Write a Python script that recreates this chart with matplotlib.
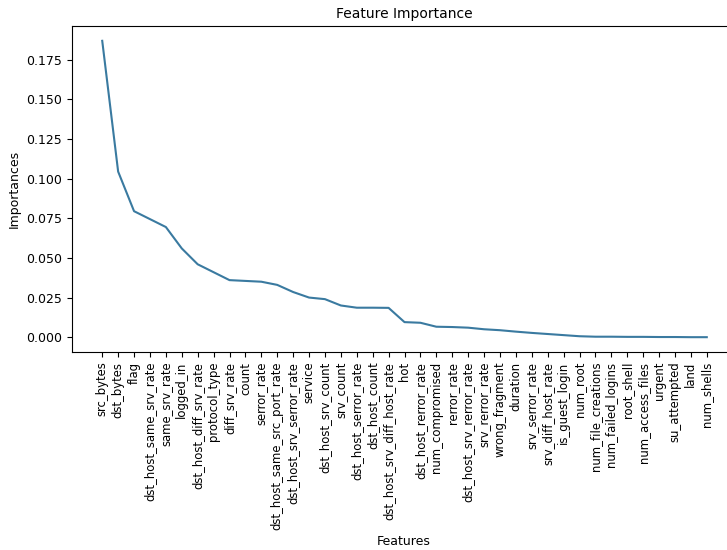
import matplotlib
matplotlib.use("Agg")
import matplotlib.pyplot as plt

features = [
    "src_bytes", "dst_bytes", "flag", "dst_host_same_srv_rate", "same_srv_rate",
    "logged_in", "dst_host_diff_srv_rate", "protocol_type", "diff_srv_rate", "count",
    "serror_rate", "dst_host_same_src_port_rate", "dst_host_srv_serror_rate", "service",
    "dst_host_srv_count", "srv_count", "dst_host_serror_rate", "dst_host_count",
    "dst_host_srv_diff_host_rate", "hot", "dst_host_rerror_rate", "num_compromised",
    "rerror_rate", "dst_host_srv_rerror_rate", "srv_rerror_rate", "wrong_fragment",
    "duration", "srv_serror_rate", "srv_diff_host_rate", "is_guest_login", "num_root",
    "num_file_creations", "num_failed_logins", "root_shell", "num_access_files",
    "urgent", "su_attempted", "land", "num_shells",
]

importances = [
    0.187, 0.1045, 0.0795, 0.0745, 0.0695, 0.056, 0.046, 0.041, 0.036, 0.0355,
    0.035, 0.033, 0.0285, 0.025, 0.024, 0.020, 0.0186, 0.0186, 0.0185, 0.0095,
    0.0091, 0.0066, 0.0064, 0.006, 0.005, 0.0044, 0.0035, 0.0027, 0.002, 0.0013,
    0.0006, 0.0003, 0.0003, 0.0002, 0.0002, 0.0001, 0.0001, 0.0, 0.0,
]

fig = plt.figure(figsize=(7.27, 5.5), dpi=100)
ax = fig.add_axes([72 / 727, (550 - 352) / 550, (737 - 72) / 727, (352 - 26) / 550])

ax.plot(features, importances, color="#3a7aa0", linewidth=1.5)
ax.set_title("Feature Importance", fontsize=10)
ax.set_xlabel("Features", fontsize=9)
ax.set_ylabel("Importances", fontsize=9)
ax.tick_params(axis="x", labelrotation=90, labelsize=8.4)
ax.tick_params(axis="y", labelsize=9)
ax.xaxis.set_label_coords(0.499, -0.562)

fig.savefig("out.png", dpi=100)
